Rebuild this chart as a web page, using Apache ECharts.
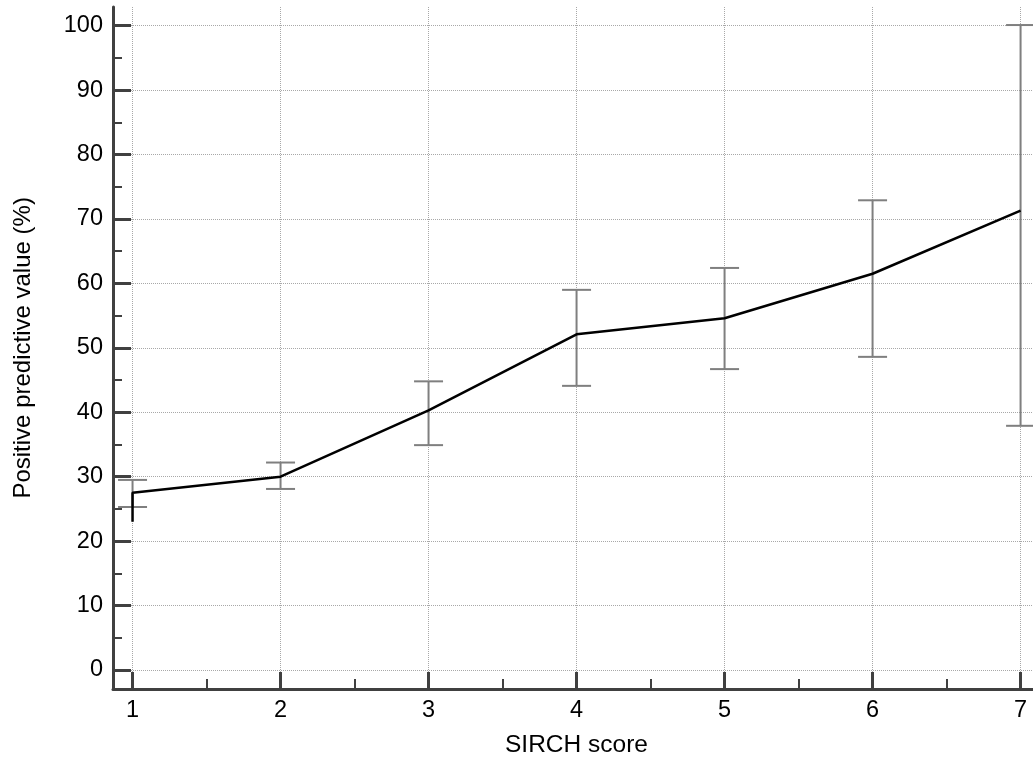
<!DOCTYPE html>
<html><head><meta charset="utf-8">
<script src="https://cdn.jsdelivr.net/npm/echarts@6/dist/echarts.min.js"></script>
<style>html,body{margin:0;padding:0;background:#fff}#c{width:1033px;height:768px}</style>
</head><body><div id="c"></div>
<script>
// ---- data ----
const scores = [1, 2, 3, 4, 5, 6, 7];
const ppv    = [27.5, 30.0, 40.3, 52.1, 54.6, 61.5, 71.3];
const ciLow  = [25.3, 28.1, 34.9, 44.1, 46.7, 48.6, 37.9];
const ciHigh = [29.5, 32.2, 44.8, 59.0, 62.4, 72.9, 100.1];
const lineStart = [1, 23.0];          // short vertical start segment at score 1
const xTickLabels = ['1', '2', '3', '4', '5', '6', '7'];
const yTickLabels = ['0', '10', '20', '30', '40', '50', '60', '70', '80', '90', '100'];
const xTitle = 'SIRCH score';
const yTitle = 'Positive predictive value (%)';

// ---- chart ----
const FONT = 'Liberation Sans, Arial, sans-serif';
const AX = '#404040';
const GRIDC = '#a8a8a8';
const chart = echarts.init(document.getElementById('c'), null, {renderer: 'canvas'});

const lineData = [lineStart].concat(scores.map((s, i) => [s, ppv[i]]));
const errData = scores.map((s, i) => [s, ciLow[i], ciHigh[i]]);

chart.setOption({
  animation: false,
  backgroundColor: '#fff',
  grid: [
    {left: 113, right: 0, top: 7, bottom: 79},        // data + axis lines
    {left: 113, right: 0, top: 25.7, bottom: 98},     // y ticks / horizontal grid (0..100)
    {left: 132.5, right: 12.5, top: 7, bottom: 79}    // x ticks / vertical grid (1..7)
  ],
  xAxis: [
    {gridIndex: 0, type: 'value', min: 0.868, max: 7.084,
     axisLine: {show: true, onZero: false, lineStyle: {color: AX, width: 3}},
     axisTick: {show: false}, axisLabel: {show: false}, splitLine: {show: false}},
    {gridIndex: 1, type: 'value', min: 0, max: 1, show: false},
    {gridIndex: 2, type: 'value', min: 1, max: 7, interval: 1,
     axisLine: {show: false, onZero: false},
     axisTick: {show: true, inside: true, length: 17, lineStyle: {color: AX, width: 3}},
     minorTick: {show: true, splitNumber: 2, length: 10, lineStyle: {color: AX, width: 2}},
     axisLabel: {fontSize: 23.5, color: '#000', fontFamily: FONT, margin: 10,
       formatter: v => xTickLabels[Math.round(v) - 1]},
     splitLine: {show: true, lineStyle: {type: 'dotted', color: GRIDC, width: 1}},
     name: xTitle, nameLocation: 'middle', nameGap: 44,
     nameTextStyle: {fontSize: 24.5, color: '#000', fontFamily: FONT}}
  ],
  yAxis: [
    {gridIndex: 0, type: 'value', min: -2.95, max: 102.9,
     axisLine: {show: true, onZero: false, lineStyle: {color: AX, width: 3}},
     axisTick: {show: false}, axisLabel: {show: false}, splitLine: {show: false}},
    {gridIndex: 1, type: 'value', min: 0, max: 100, interval: 10,
     axisLine: {show: false, onZero: false},
     axisTick: {show: true, inside: true, length: 18, lineStyle: {color: AX, width: 3}},
     minorTick: {show: true, splitNumber: 2, length: 9, lineStyle: {color: AX, width: 2}},
     axisLabel: {fontSize: 23.5, color: '#000', fontFamily: FONT, margin: 10,
       formatter: v => yTickLabels[Math.round(v / 10)]},
     splitLine: {show: true, lineStyle: {type: 'dotted', color: GRIDC, width: 1}},
     name: yTitle, nameLocation: 'middle', nameGap: 78,
     nameTextStyle: {fontSize: 24, color: '#000', fontFamily: FONT}},
    {gridIndex: 2, type: 'value', min: 0, max: 1, show: false}
  ],
  series: [
    {
      type: 'custom', xAxisIndex: 0, yAxisIndex: 0, clip: false, z: 3,
      data: errData,
      renderItem: function (params, api) {
        const x = api.value(0);
        const lo = api.coord([x, api.value(1)]);
        const hi = api.coord([x, api.value(2)]);
        const hw = 14.5;
        const st = {stroke: '#7f7f7f', lineWidth: 2};
        return {type: 'group', children: [
          {type: 'line', shape: {x1: hi[0], y1: hi[1], x2: lo[0], y2: lo[1]}, style: st},
          {type: 'line', shape: {x1: hi[0] - hw, y1: hi[1], x2: hi[0] + hw, y2: hi[1]}, style: st},
          {type: 'line', shape: {x1: lo[0] - hw, y1: lo[1], x2: lo[0] + hw, y2: lo[1]}, style: st}
        ]};
      }
    },
    {
      type: 'line', xAxisIndex: 0, yAxisIndex: 0, z: 5,
      data: lineData, symbol: 'none', clip: false,
      lineStyle: {color: '#000', width: 2.5}
    }
  ]
});
</script></body></html>
